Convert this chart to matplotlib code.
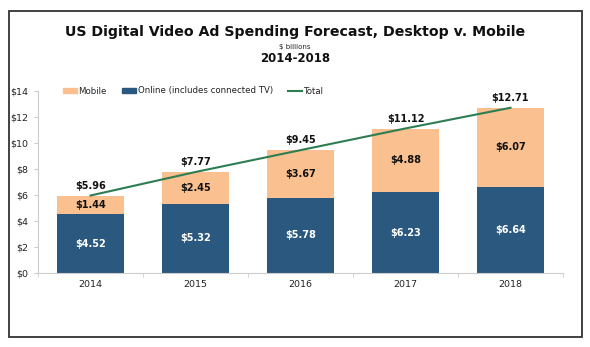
import matplotlib
matplotlib.use("Agg")
import matplotlib.pyplot as plt
from matplotlib.patches import Rectangle, Patch
from matplotlib.lines import Line2D

years = ["2014", "2015", "2016", "2017", "2018"]
online = [4.52, 5.32, 5.78, 6.23, 6.64]
mobile = [1.44, 2.45, 3.67, 4.88, 6.07]
total = [5.96, 7.77, 9.45, 11.12, 12.71]
yticks = [0, 2, 4, 6, 8, 10, 12, 14]

c_online = "#2B587F"
c_mobile = "#FAC08F"
c_total = "#2E7D52"

W, H = 590, 347
fig = plt.figure(figsize=(W / 100, H / 100), dpi=100)
fig.patch.set_facecolor("white")

# outer border box
fig.add_artist(Rectangle((9 / W, 1 - 337 / H), (582 - 9) / W, (337 - 11) / H,
                         transform=fig.transFigure, fill=False,
                         edgecolor="#333333", linewidth=1.3))

ax = fig.add_axes([38 / W, 1 - 273 / H, (563 - 38) / W, (273 - 91) / H])
x = list(range(len(years)))
bw = 0.63
ax.bar(x, online, width=bw, color=c_online, zorder=2)
ax.bar(x, mobile, width=bw, bottom=online, color=c_mobile, zorder=2)
ax.plot(x, total, color=c_total, linewidth=1.5, zorder=3)

for i in x:
    ax.text(i, online[i] / 2, f"${online[i]:.2f}", ha="center", va="center",
            color="white", fontsize=7, fontweight="bold", zorder=4)
    ax.text(i, online[i] + mobile[i] / 2, f"${mobile[i]:.2f}", ha="center",
            va="center", color="#111111", fontsize=7, fontweight="bold", zorder=4)
    ax.text(i, total[i] + 0.75, f"${total[i]:.2f}", ha="center", va="center",
            color="#111111", fontsize=7, fontweight="bold", zorder=4)

ax.set_xlim(-0.5, len(years) - 0.5)
ax.set_ylim(0, 14)
ax.set_yticks(yticks)
ax.set_yticklabels([f"${v}" for v in yticks])
ax.set_xticks(x)
ax.set_xticklabels(years)
ax.set_xticks([i + 0.5 for i in range(-1, len(years))], minor=True)
ax.tick_params(axis="x", which="major", length=0, labelsize=6.8, colors="#222222", pad=5)
ax.tick_params(axis="x", which="minor", length=3, color="#cccccc")
ax.tick_params(axis="y", length=3, color="#cccccc", labelsize=6.8, pad=4)
for lbl in ax.get_yticklabels():
    lbl.set_color("#222222")
for s in ["top", "right"]:
    ax.spines[s].set_visible(False)
ax.spines["left"].set_color("#cccccc")
ax.spines["bottom"].set_color("#cccccc")

fig.text(0.5, 1 - 32 / H, "US Digital Video Ad Spending Forecast, Desktop v. Mobile",
         ha="center", va="center", fontsize=10.2, fontweight="bold", color="#111111")
fig.text(0.5, 1 - 47 / H, "$ billions", ha="center", va="center", fontsize=5,
         color="#222222")
fig.text(0.5, 1 - 59 / H, "2014-2018", ha="center", va="center", fontsize=8.5,
         fontweight="bold", color="#111111")

handles = [Patch(color=c_mobile), Patch(color=c_online),
           Line2D([0], [0], color=c_total, linewidth=1.5)]
labels = ["Mobile", "Online (includes connected TV)", "Total"]
fig.legend(handles, labels, loc="center left", bbox_to_anchor=(55 / W, 1 - 91 / H),
           ncol=3, frameon=False, fontsize=6.2, handlelength=1.6, handleheight=0.5,
           handletextpad=0.2, columnspacing=1.8, labelcolor="#222222")

fig.savefig("out.png", dpi=100, facecolor="white")
